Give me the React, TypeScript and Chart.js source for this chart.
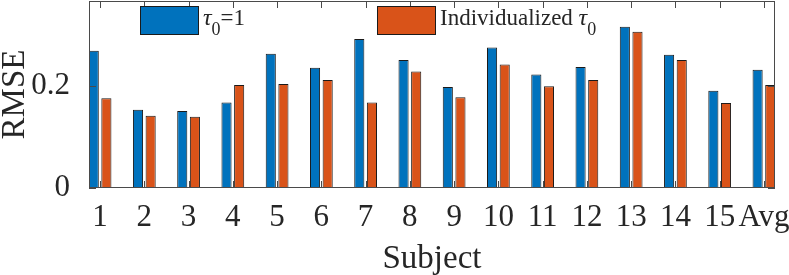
import React, { useEffect, useRef } from 'react';
import { Chart, registerables } from 'chart.js';

Chart.register(...registerables);

// ---- data ----
const CATEGORIES = ['1', '2', '3', '4', '5', '6', '7', '8', '9', '10', '11', '12', '13', '14', '15', 'Avg'];
const TAU_ONE = [0.268, 0.1525, 0.1505, 0.167, 0.262, 0.2346, 0.2907, 0.2497, 0.1969, 0.2743, 0.2215, 0.236, 0.3148, 0.26, 0.19, 0.2307];
const TAU_INDIV = [0.175, 0.141, 0.139, 0.201, 0.203, 0.2106, 0.1668, 0.2274, 0.1773, 0.241, 0.1988, 0.2106, 0.305, 0.25, 0.166, 0.2008];
const Y_TICKS = [0, 0.2];
const SERIES_NAMES = ['τ0=1', 'Individualized τ0'];
// legend rich-text pieces: [text, style] ; style: 'n' normal, 'i' italic, 's' subscript
const LEGEND_PARTS: [string, string][][] = [
  [['τ', 'i'], ['0', 's'], ['=1', 'n']],
  [['Individualized ', 'n'], ['τ', 'i'], ['0', 's']],
];

const BLUE = '#0072BD';
const ORANGE = '#D95319';
const TEXT = '#262626';
const AXIS = '#4a4a4a';
const FONT = '"Liberation Serif", "Times New Roman", serif';

const axesBoxPlugin = {
  id: 'axesBox',
  afterDatasetsDraw(chart: any) {
    const { ctx, chartArea, scales } = chart;
    const { left, right, top, bottom } = chartArea;
    const x = scales.x;
    const y = scales.y;
    const TL = 7;
    ctx.save();
    ctx.strokeStyle = AXIS;
    ctx.lineWidth = 1;
    ctx.beginPath();
    x.ticks.forEach((t: any) => {
      const px = Math.round(x.getPixelForValue(t.value)) + 0.5;
      ctx.moveTo(px, bottom);
      ctx.lineTo(px, bottom - TL);
      ctx.moveTo(px, top);
      ctx.lineTo(px, top + TL);
    });
    y.ticks.forEach((t: any) => {
      const py = Math.round(y.getPixelForValue(t.value)) + 0.5;
      ctx.moveTo(left, py);
      ctx.lineTo(left + TL, py);
      ctx.moveTo(right, py);
      ctx.lineTo(right - TL, py);
    });
    ctx.stroke();
    const l = Math.round(left) + 0.5;
    const r = Math.round(right) - 0.5;
    const t = Math.round(top) + 0.5;
    const b = Math.round(bottom) - 0.5;
    ctx.strokeRect(l, t, r - l, b - t);
    ctx.restore();
  },
};

const legendPlugin = {
  id: 'mLegend',
  afterDraw(chart: any) {
    const { ctx, chartArea } = chart;
    const patchW = 59;
    const patchH = 29;
    const patchY = 6;
    const patchXs = [chartArea.left + 51, chartArea.left + 288];
    const baseline = 25;
    ctx.save();
    chart.data.datasets.forEach((ds: any, i: number) => {
      const px = patchXs[i];
      ctx.fillStyle = ds.backgroundColor;
      ctx.fillRect(px, patchY, patchW, patchH);
      ctx.strokeStyle = '#1a1a1a';
      ctx.lineWidth = 1;
      ctx.strokeRect(px + 0.5, patchY + 0.5, patchW - 1, patchH - 1);
      let cx = px + patchW + 4;
      ctx.fillStyle = TEXT;
      ctx.textBaseline = 'alphabetic';
      ctx.textAlign = 'left';
      LEGEND_PARTS[i].forEach(([txt, st]) => {
        if (st === 's') {
          ctx.font = `18px ${FONT}`;
          ctx.fillText(txt, cx, baseline + 10);
        } else if (st === 'i') {
          ctx.font = `italic 24px ${FONT}`;
          ctx.fillText(txt, cx, baseline);
        } else {
          ctx.font = `23px ${FONT}`;
          ctx.fillText(txt, cx, baseline);
        }
        cx += ctx.measureText(txt).width;
      });
    });
    ctx.restore();
  },
};

export default function App() {
  const ref = useRef<HTMLCanvasElement | null>(null);

  useEffect(() => {
    if (!ref.current) return;
    const chart = new Chart(ref.current, {
      type: 'bar',
      data: {
        datasets: [
          {
            label: SERIES_NAMES[0],
            data: TAU_ONE.map((v, i) => ({ x: i + 1, y: v })),
            backgroundColor: BLUE,
            borderColor: '#1a1a1a',
            borderWidth: 1,
            categoryPercentage: 0.5714,
            barPercentage: 0.8,
            clip: 0,
          } as any,
          {
            label: SERIES_NAMES[1],
            data: TAU_INDIV.map((v, i) => ({ x: i + 1, y: v })),
            backgroundColor: ORANGE,
            borderColor: '#1a1a1a',
            borderWidth: 1,
            categoryPercentage: 0.5714,
            barPercentage: 0.8,
            clip: 0,
          } as any,
        ],
      },
      options: {
        animation: false,
        responsive: false,
        devicePixelRatio: 1,
        layout: { padding: { left: 0, right: 14, top: 1, bottom: 0 } },
        plugins: {
          legend: { display: false },
          tooltip: { enabled: false },
        },
        scales: {
          x: {
            type: 'linear',
            offset: false,
            min: 0.75,
            max: 16.25,
            grid: { display: false, offset: false },
            border: { display: false },
            afterBuildTicks: (axis: any) => {
              axis.ticks = CATEGORIES.map((_, i) => ({ value: i + 1 }));
            },
            afterFit: (scale: any) => {
              scale.height = 87;
              scale.paddingLeft = 0;
              scale.paddingRight = 0;
            },
            ticks: {
              autoSkip: false,
              maxRotation: 0,
              minRotation: 0,
              padding: 3,
              color: TEXT,
              font: { family: FONT, size: 31 },
              callback: (v: any) => CATEGORIES[Math.round(Number(v)) - 1] ?? '',
            },
            title: {
              display: true,
              text: 'Subject',
              color: TEXT,
              font: { family: FONT, size: 33, lineHeight: 1.1 },
              padding: { top: 0, bottom: -2 },
            },
          },
          y: {
            type: 'linear',
            min: 0,
            max: 0.365,
            grid: { display: false },
            border: { display: false },
            afterBuildTicks: (axis: any) => {
              axis.ticks = Y_TICKS.map((v) => ({ value: v }));
            },
            afterFit: (scale: any) => {
              scale.width = 89;
              scale.paddingTop = 0;
              scale.paddingBottom = 0;
            },
            ticks: {
              padding: 11,
              color: TEXT,
              font: { family: FONT, size: 31 },
              callback: (v: any) => String(Number(v)),
            },
            title: {
              display: true,
              text: 'RMSE',
              color: TEXT,
              font: { family: FONT, size: 33, lineHeight: 0.9 },
              padding: 0,
            },
          },
        },
      },
      plugins: [axesBoxPlugin, legendPlugin],
    } as any);
    return () => chart.destroy();
  }, []);

  return (
    <div style={{ position: 'fixed', left: 0, top: 0, width: 789, height: 275, background: '#fff' }}>
      <canvas ref={ref} width={789} height={275} style={{ display: 'block', width: 789, height: 275 }} />
    </div>
  );
}
